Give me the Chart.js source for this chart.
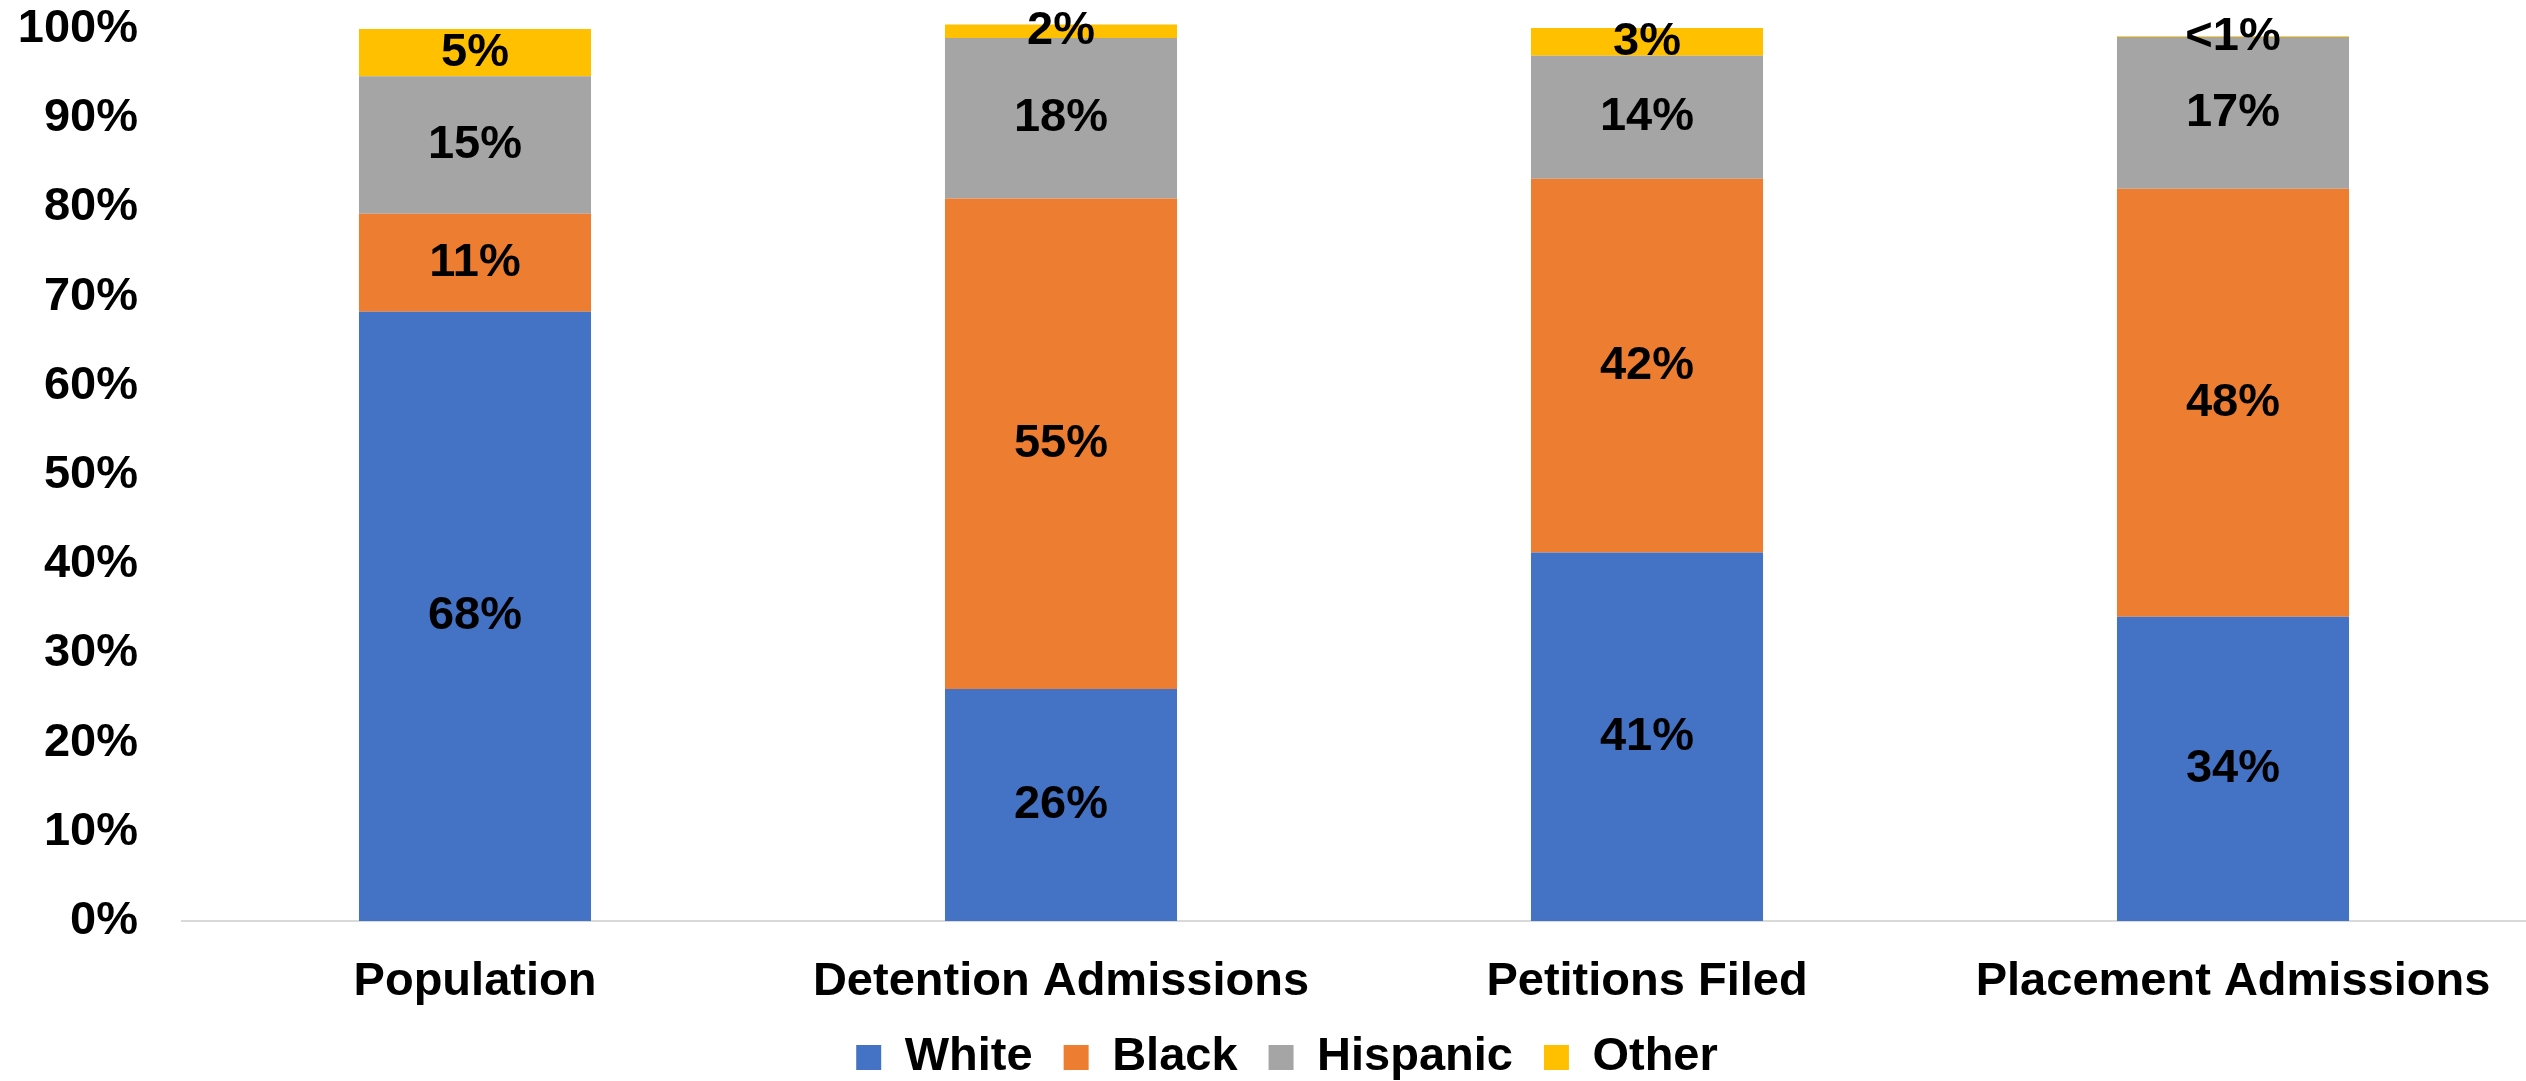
<!DOCTYPE html>
<html>
<head>
<meta charset="utf-8">
<script src="https://cdn.jsdelivr.net/npm/chart.js@4"></script>
<style>
  html, body { margin:0; padding:0; background:#fff; overflow:hidden; }
  #wrap { width:2526px; height:1081px; }
</style>
</head>
<body>
<div id="wrap"><canvas id="chart" width="2526" height="1081"></canvas></div>
<script>
// stacked share of youth by race at each stage
const categories = ["Population", "Detention Admissions", "Petitions Filed", "Placement Admissions"];
const white    = [68.3, 26.0, 41.3, 34.1];
const black    = [11.0, 55.0, 41.9, 48.0];
const hispanic = [15.4, 18.0, 13.8, 17.0];
const other    = [5.3, 1.5, 3.1, 0.1];
const yTicks   = [0, 10, 20, 30, 40, 50, 60, 70, 80, 90, 100];

const FONT = "'Liberation Sans', Arial, sans-serif";
const bold47 = { family: FONT, size: 47, weight: "bold" };

function pctLabel(v){ return v < 1 ? "<1%" : Math.round(v) + "%"; }

// draws the value in the middle of each segment
const segLabels = {
  id: "segLabels",
  afterDatasetsDraw(chart){
    const ctx = chart.ctx;
    ctx.save();
    ctx.font = "bold 47px " + FONT;
    ctx.fillStyle = "#000";
    ctx.textAlign = "center";
    ctx.textBaseline = "middle";
    chart.data.datasets.forEach((ds, i) => {
      chart.getDatasetMeta(i).data.forEach((el, j) => {
        ctx.fillText(pctLabel(ds.data[j]), el.x, (el.y + el.base) / 2);
      });
    });
    ctx.restore();
  }
};

// excel centres the legend a little right of the canvas middle
const legendShift = {
  id: "legendShift",
  afterLayout(chart){ chart.legend.left += 24; chart.legend.right += 24; }
};

function ds(label, data, color){
  return { label, data, backgroundColor: color, borderWidth: 0,
           barPercentage: 1, categoryPercentage: 0.396, clip: false };
}

new Chart(document.getElementById("chart").getContext("2d"), {
  type: "bar",
  data: {
    labels: categories,
    datasets: [
      ds("White", white, "#4472C4"),
      ds("Black", black, "#ED7D31"),
      ds("Hispanic", hispanic, "#A5A5A5"),
      ds("Other", other, "#FFC000")
    ]
  },
  options: {
    responsive: false,
    animation: false,
    devicePixelRatio: 1,
    layout: { padding: 0 },
    scales: {
      x: {
        stacked: true,
        afterFit(scale){ scale.height = 82; scale._computeLabelArea = () => undefined; },
        grid: { display: false, drawTicks: false },
        border: { display: true, color: "#D9D9D9", width: 2 },
        ticks: { color: "#000", font: bold47, padding: 33, maxRotation: 0, autoSkip: false }
      },
      y: {
        stacked: true,
        min: 0, max: 100,
        afterBuildTicks(scale){ scale.ticks = yTicks.map(v => ({ value: v })); },
        afterFit(scale){ scale.width = 182; scale.paddingTop = 29; scale.paddingBottom = 0; },
        grid: { display: false, drawTicks: false },
        border: { display: false },
        ticks: { color: "#000", font: bold47, padding: 44, callback: v => v + "%" }
      }
    },
    plugins: {
      tooltip: { enabled: false },
      legend: {
        position: "bottom",
        maxHeight: 78,
        labels: { color: "#000", font: bold47, boxWidth: 25, boxHeight: 25, padding: 31 }
      }
    }
  },
  plugins: [segLabels, legendShift]
});
</script>
</body>
</html>
